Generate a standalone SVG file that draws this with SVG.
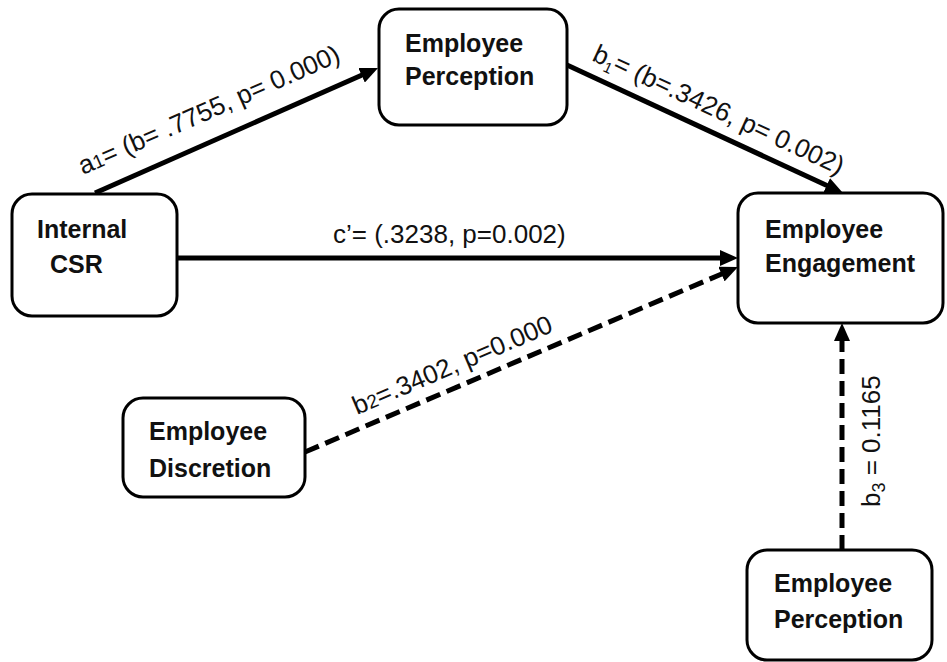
<svg xmlns="http://www.w3.org/2000/svg" width="947" height="662" viewBox="0 0 947 662">
<style>
.box{fill:#fff;stroke:#000;stroke-width:3}
.nt{font-family:"Liberation Sans",Arial,sans-serif;font-weight:bold;font-size:25px;fill:#111}
.lb{font-family:"Liberation Sans",Arial,sans-serif;font-size:26px;fill:#111}
.ln{stroke:#000;stroke-width:5;fill:none}
.dash{stroke-dasharray:15 7}
</style>
<defs>
<marker id="ah" markerUnits="userSpaceOnUse" markerWidth="18" markerHeight="16" refX="8" refY="8" orient="auto">
<path d="M0,0 L18,8 L0,16 z" fill="#000" stroke="none"/>
</marker>
</defs>
<rect width="947" height="662" fill="#fff"/>
<g id="connectors">
<line class="ln" x1="95" y1="193" x2="368.9" y2="72" marker-end="url(#ah)"/>
<line class="ln" x1="567" y1="65" x2="833.9" y2="188.8" marker-end="url(#ah)"/>
<line class="ln" x1="177" y1="258" x2="728" y2="258" marker-end="url(#ah)"/>
<line class="ln dash" x1="305" y1="452" x2="728.8" y2="270.9" marker-end="url(#ah)"/>
<line class="ln dash" x1="842" y1="550" x2="842" y2="333" marker-end="url(#ah)"/>
<text class="lb" transform="translate(83,175) rotate(-23.8)">a<tspan font-size="19">1</tspan>= (b= .7755, p= 0.000)</text>
<text class="lb" transform="translate(591,60) rotate(24.9)">b<tspan font-size="15" dy="5">1</tspan><tspan dy="-5">= (b=.3426, p= 0.002)</tspan></text>
<text class="lb" x="333" y="243">c’= (.3238, p=0.002)</text>
<text class="lb" transform="translate(357,415) rotate(-23)">b<tspan font-size="19">2</tspan>=.3402, p=0.000</text>
<text class="lb" transform="translate(880,507) rotate(-90)" font-size="27">b<tspan font-size="18" dy="5">3</tspan><tspan dy="-5"> = 0.1165</tspan></text>
</g>
<g id="internal-csr">
<rect class="box" x="12" y="194" width="165" height="122" rx="20"/>
<text class="nt" x="37" y="238">Internal</text>
<text class="nt" x="50" y="273">CSR</text>
</g>
<g id="employee-perception-top">
<rect class="box" x="379" y="9" width="188" height="116" rx="20"/>
<text class="nt" x="405" y="52">Employee</text>
<text class="nt" x="405" y="85">Perception</text>
</g>
<g id="employee-engagement">
<rect class="box" x="738" y="193" width="205" height="130" rx="20"/>
<text class="nt" x="765" y="238">Employee</text>
<text class="nt" x="765" y="272">Engagement</text>
</g>
<g id="employee-discretion">
<rect class="box" x="123" y="398" width="182" height="99" rx="20"/>
<text class="nt" x="149" y="440">Employee</text>
<text class="nt" x="149" y="477">Discretion</text>
</g>
<g id="employee-perception-bottom">
<rect class="box" x="747" y="550" width="185" height="110" rx="20"/>
<text class="nt" x="774" y="592">Employee</text>
<text class="nt" x="774" y="628">Perception</text>
</g>
</svg>
